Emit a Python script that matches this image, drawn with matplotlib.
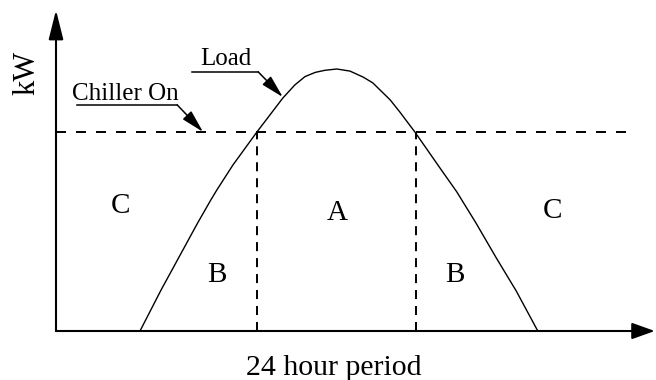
import matplotlib
matplotlib.use("Agg")
import matplotlib.pyplot as plt

# ---------- Data (arbitrary units: t across the day, kW up) ----------------

load_t = [14.0, 17.5, 20.5, 23.6, 25.8, 26.8, 29.5, 33.5, 37.8, 39.8, 41.5, 43.2,
          44.8, 46.8, 49.0, 51.2, 52.8, 55.7, 57.3, 59.8, 64.0, 66.8, 70.0, 73.3,
          76.7, 80.3]
load_kw = [0.0, 15.6, 28.2, 41.2, 50.0, 53.8, 63.4, 76.0, 88.9, 93.9, 97.1, 98.7,
           99.5, 100.0, 99.2, 96.9, 94.7, 88.2, 83.6, 76.0, 62.2, 53.1, 41.2, 28.2,
           15.3, 0.0]

chiller_kw = 76.0
chiller_end_t = 96.7
cross_t = [33.5, 60.0]

region_labels = ['C', 'B', 'A', 'B', 'C']
region_t = [10.7, 26.8, 46.8, 66.5, 82.8]
region_kw = [45.0, 18.7, 42.4, 18.7, 43.1]

axis_t_max = 99.8
axis_kw_max = 122.5

# ---------- Figure ---------------------------------------------------------

plt.rcParams['font.family'] = ['Liberation Serif', 'DejaVu Serif']
plt.rcParams['lines.scale_dashes'] = False

fig = plt.figure(figsize=(6.56, 3.80), dpi=100)
ax = fig.add_axes([0, 0, 1, 1])
ax.set_xlim(-56 / 6, 100)
ax.set_ylim(-49 / 2.62, 331 / 2.62)
ax.axis('off')

# axes with arrow heads
ax.annotate('', xy=(0, axis_kw_max), xytext=(0, 0),
            arrowprops=dict(arrowstyle='-|>,head_length=1.8,head_width=0.45',
                            mutation_scale=10, lw=1.5, color='k',
                            shrinkA=0, shrinkB=0))
ax.annotate('', xy=(axis_t_max, 0), xytext=(0, 0),
            arrowprops=dict(arrowstyle='-|>,head_length=1.4,head_width=0.5',
                            mutation_scale=10, lw=1.5, color='k',
                            shrinkA=0, shrinkB=0))

# load curve
ax.plot(load_t, load_kw, color='k', lw=1.0)

# chiller-on level and the crossing lines
ax.plot([0, chiller_end_t], [chiller_kw, chiller_kw], color='k', lw=1.4,
        dashes=[7.2, 7.2])
for t in cross_t:
    ax.plot([t, t], [0, chiller_kw], color='k', lw=1.4, dashes=[6.5, 5.0])

# region letters
for lbl, t, kw in zip(region_labels, region_t, region_kw):
    ax.text(t, kw, lbl, fontsize=21, ha='center', va='baseline')

# callouts
leader = dict(arrowstyle='-|>,head_length=1.4,head_width=0.36',
              mutation_scale=10, lw=1.1, color='k', shrinkA=0, shrinkB=0)

ax.text(28.3, 101.5, 'Load', fontsize=18, ha='center', va='baseline')
ax.plot([22.7, 33.7], [98.9, 98.9], color='k', lw=1.1)
ax.annotate('', xy=(37.8, 89.3), xytext=(33.7, 98.9), arrowprops=leader)

ax.text(11.6, 88.2, 'Chiller On', fontsize=18, ha='center', va='baseline')
ax.plot([3.5, 20.2], [86.3, 86.3], color='k', lw=1.1)
ax.annotate('', xy=(24.5, chiller_kw), xytext=(20.2, 86.3), arrowprops=leader)

# axis titles
ax.text(46.3, -16.8, '24 hour period', fontsize=21.5, ha='center', va='baseline')
ax.text(-4.8, 98.5, 'kW', fontsize=22, ha='center', va='center', rotation=90)

fig.savefig('out.png', dpi=100)
